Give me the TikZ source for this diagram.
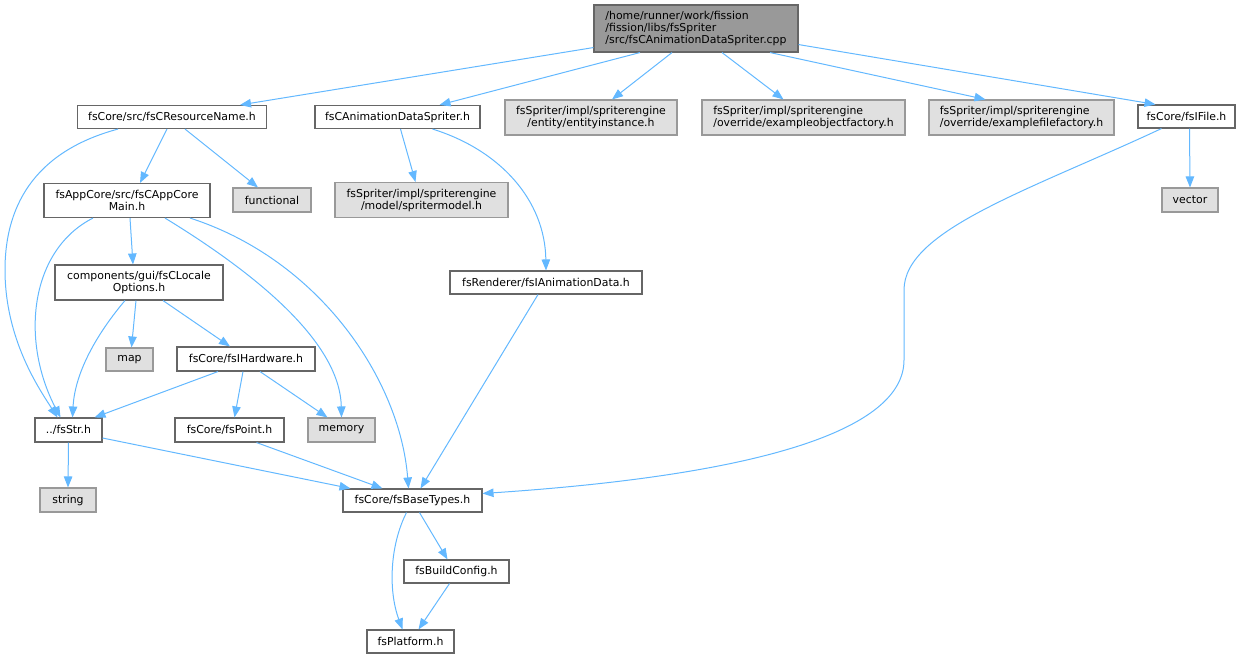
\documentclass[tikz,border=0pt]{standalone}
\usepackage{fontspec}
\setmainfont{DejaVu Sans}
\usetikzlibrary{arrows.meta}
\definecolor{edgeblue}{HTML}{63B8FF}
\definecolor{boxline}{HTML}{666666}
\definecolor{sysfill}{HTML}{E0E0E0}
\definecolor{sysline}{HTML}{999999}
\definecolor{topfill}{HTML}{999999}
\begin{document}
\begin{tikzpicture}[x=1pt,y=-1pt,
	hdr/.style={draw=boxline,fill=white,line width=1.1pt,inner xsep=2pt,inner ysep=1pt,minimum height=23pt,font=\fontsize{10.9}{12}\selectfont},
	sys/.style={hdr,draw=sysline,fill=sysfill},
	top/.style={hdr,fill=topfill},
	dep/.style={draw=edgeblue,line width=1pt,-{Triangle[length=11pt,width=8.5pt]}}]
	\useasboundingbox (0,0) rectangle (1247,659);
	% first row
	\node [top,minimum width=204pt,minimum height=47pt,align=left] (root) at (696,28.5) {/home/runner/work/fission\\/fission/libs/fsSpriter\\/src/fsCAnimationDataSpriter.cpp};
	\node [hdr,minimum width=189pt] (rn) at (172,117) {fsCore/src/fsCResourceName.h};
	\node [hdr,minimum width=165pt] (ads) at (397.5,117) {fsCAnimationDataSpriter.h};
	\node [sys,minimum width=172pt,minimum height=35pt,align=center] (ent) at (591,117.5) {fsSpriter/impl/spriterengine\\/entity/entityinstance.h};
	\node [sys,minimum width=203pt,minimum height=35pt,align=left] (eof) at (803.5,117.5) {fsSpriter/impl/spriterengine\\/override/exampleobjectfactory.h};
	\node [sys,minimum width=185pt,minimum height=35pt,align=left] (eff) at (1021.5,117.5) {fsSpriter/impl/spriterengine\\/override/examplefilefactory.h};
	\node [hdr,minimum width=97pt] (ifile) at (1186.5,116.5) {fsCore/fsIFile.h};
	% second row
	\node [hdr,minimum width=166pt,minimum height=34pt,align=center] (acm) at (127,200.5) {fsAppCore/src/fsCAppCore\\Main.h};
	\node [sys,minimum width=78pt,minimum height=24pt] (fun) at (272,200) {functional};
	\node [sys,minimum width=173pt,minimum height=35pt,align=center] (spm) at (421.5,200) {fsSpriter/impl/spriterengine\\/model/spritermodel.h};
	\node [sys,minimum width=56pt,minimum height=24pt] (vec) at (1190,200) {vector};
	% third row
	\node [hdr,minimum width=168pt,minimum height=35pt,align=center] (lo) at (139,282.5) {components/gui/fsCLocale\\Options.h};
	\node [hdr,minimum width=192pt] (iad) at (546,282.5) {fsRenderer/fsIAnimationData.h};
	\node [sys,minimum width=47pt] (map) at (129.5,359.5) {map};
	\node [hdr,minimum width=138pt,minimum height=24pt] (ih) at (246,359) {fsCore/fsIHardware.h};
	% lower rows
	\node [hdr,minimum width=67pt,minimum height=24pt] (str) at (68.5,430) {../fsStr.h};
	\node [hdr,minimum width=109pt,minimum height=24pt] (point) at (229.5,430) {fsCore/fsPoint.h};
	\node [sys,minimum width=67pt,minimum height=24pt] (mem) at (341.5,430) {memory};
	\node [sys,minimum width=56pt,minimum height=24pt] (string) at (68,500) {string};
	\node [hdr,minimum width=139pt] (bt) at (412.5,500.5) {fsCore/fsBaseTypes.h};
	\node [hdr,minimum width=105pt] (bc) at (456.5,571.5) {fsBuildConfig.h};
	\node [hdr,minimum width=87pt] (pl) at (410.5,641.5) {fsPlatform.h};
	% includes of the .cpp
	\draw [dep] ([yshift=5pt]root.south west) -- ([xshift=68pt]rn.north);
	\draw [dep] ([xshift=-56pt]root.south) -- ([xshift=42pt]ads.north);
	\draw [dep] ([xshift=-24pt]root.south) -- ([xshift=21pt]ent.north);
	\draw [dep] ([xshift=26pt]root.south) -- ([xshift=-20pt]eof.north);
	\draw [dep] ([xshift=74pt]root.south) -- ([xshift=-36pt]eff.north);
	\draw [dep] ([yshift=8pt]root.south east) -- ([xshift=-31pt]ifile.north);
	% header includes
	\draw [dep] ([xshift=-54pt]rn.south) .. controls (40,150) and (5,200) .. (5,270) .. controls (5,340) and (40,390) .. ([xshift=-11pt]str.north);
	\draw [dep] ([xshift=-5pt]rn.south) -- ([xshift=13pt]acm.north);
	\draw [dep] ([xshift=13pt]rn.south) -- ([xshift=-14pt]fun.north);
	\draw [dep] ([xshift=3pt]ads.south) -- ([xshift=-6pt]spm.north);
	\draw [dep] ([xshift=35pt]ads.south) .. controls (500,150) and (545,200) .. (iad.north);
	\draw [dep] ([xshift=-25pt]ifile.south) .. controls (1030,190) and (904,230) .. (904,290) -- (904,360) .. controls (904,430) and (760,475) .. ([yshift=7pt]bt.east);
	\draw [dep] ([xshift=3pt]ifile.south) -- (vec.north);
	\draw [dep] ([xshift=-34pt]acm.south) .. controls (30,250) and (20,340) .. ([xshift=-8pt]str.north);
	\draw [dep] ([xshift=3pt]acm.south) -- ([xshift=-6pt]lo.north);
	\draw [dep] ([xshift=38pt]acm.south) .. controls (250,270) and (340,340) .. (mem.north);
	\draw [dep] ([xshift=63pt]acm.south) .. controls (320,260) and (400,380) .. ([xshift=-4pt]bt.north);
	\draw [dep] ([xshift=-14pt]lo.south) .. controls (100,330) and (75,370) .. ([xshift=4pt]str.north);
	\draw [dep] ([xshift=-3pt]lo.south) -- ([xshift=2pt]map.north);
	\draw [dep] ([xshift=24pt]lo.south) -- ([xshift=-16pt]ih.north);
	\draw [dep] ([xshift=-28pt]ih.south) -- ([xshift=26pt]str.north);
	\draw [dep] ([xshift=-3pt]ih.south) -- ([xshift=5pt]point.north);
	\draw [dep] ([xshift=14pt]ih.south) -- ([xshift=-14pt]mem.north);
	\draw [dep] (str.south) -- (string.north);
	\draw [dep] ([yshift=-8pt]str.east) -- ([xshift=-62pt]bt.north);
	\draw [dep] ([xshift=27pt]point.south) -- ([xshift=-30pt]bt.north);
	\draw [dep] ([xshift=-8pt]iad.south) -- ([xshift=8pt]bt.north);
	\draw [dep] ([xshift=7pt]bt.south) -- ([xshift=-9pt]bc.north);
	\draw [dep] ([xshift=-6pt]bt.south) .. controls (390,545) and (388,590) .. ([xshift=-8pt]pl.north);
	\draw [dep] ([xshift=-7pt]bc.south) -- ([xshift=8pt]pl.north);
\end{tikzpicture}
\end{document}
